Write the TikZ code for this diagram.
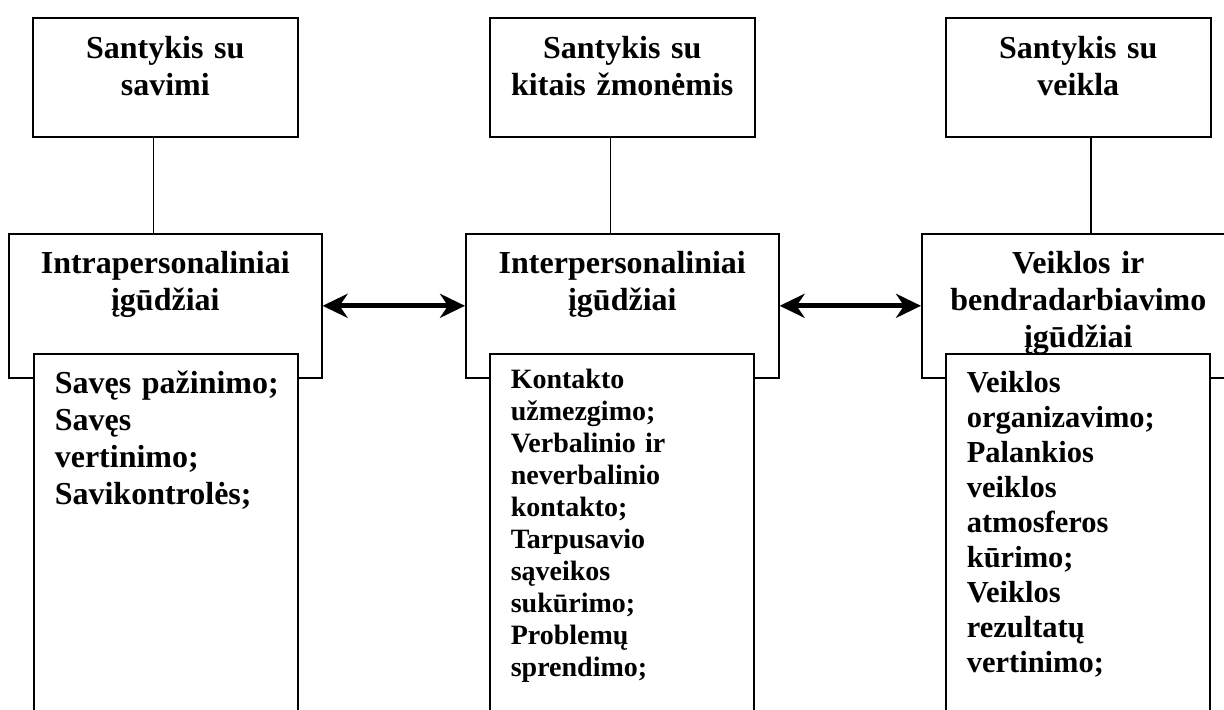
\documentclass[tikz,border=0pt]{standalone}
\usepackage{fontspec}
\setmainfont{Liberation Serif}
\usetikzlibrary{arrows.meta}

\begin{document}
\begin{tikzpicture}
  [x=0.5pt,y=-0.5pt,
   every node/.style={draw,line width=0.8pt,inner sep=0pt,anchor=north west},
   topbox/.style={text width=132.5pt,align=center,text height=20.5pt,text depth=39pt,
     font=\bfseries\fontsize{16pt}{18.5pt}\selectfont},
   skillbox/.style={text width=156.5pt,align=center,text height=20pt,text depth=52pt,
     font=\bfseries\fontsize{16pt}{18.5pt}\selectfont},
   listbox/.style={fill=white,inner xsep=10.5pt,text width=111pt,align=left,text depth=170pt},
   link/.style={line width=2.5pt,{Stealth[length=12.5pt,width=12pt,inset=4pt]}-{Stealth[length=12.5pt,width=12pt,inset=4pt]}}]
  \useasboundingbox (0,0) rectangle (1224,709);
  \clip (0,0) rectangle (1224,709);
  \node[topbox] (t1) at (32,17) {Santykis su\\savimi};
  \node[topbox] (t2) at (489,17) {Santykis su\\kitais žmonėmis};
  \node[topbox] (t3) at (945,17) {Santykis su\\veikla};
  \node[skillbox] (m1) at (8,233) {Intrapersonaliniai\\įgūdžiai};
  \node[skillbox] (m2) at (465,233) {Interpersonaliniai\\įgūdžiai};
  \node[skillbox] (m3) at (921,233) {Veiklos ir\\bendradarbiavimo\\įgūdžiai};
  \node[listbox,text height=20pt,font=\bfseries\fontsize{16pt}{18.4pt}\selectfont] (i1) at (33,353)
    {\mbox{Savęs pažinimo;}\\Savęs\\vertinimo;\\Savikontrolės;};
  \node[listbox,text height=17.5pt,font=\bfseries\fontsize{14pt}{16pt}\selectfont] (i2) at (489,353)
    {Kontakto\\užmezgimo;\\Verbalinio ir\\neverbalinio\\kontakto;\\Tarpusavio\\sąveikos\\sukūrimo;\\Problemų\\sprendimo;};
  \node[listbox,text height=19.5pt,font=\bfseries\fontsize{15.25pt}{17.5pt}\selectfont] (i3) at (945,353)
    {Veiklos\\organizavimo;\\Palankios\\veiklos\\atmosferos\\kūrimo;\\Veiklos\\rezultatų\\vertinimo;};
\foreach \from/\to/\dx in {t1/m1/-6,t2/m2/-6,t3/m3/6.25}
    \draw[line width=0.8pt] ([xshift=\dx pt]\from.south) -- ([xshift=\dx pt]\to.north);
\foreach \from/\to in {m1/m2,m2/m3}
    \draw[link] (\from) -- (\to);

\end{tikzpicture}
\end{document}
